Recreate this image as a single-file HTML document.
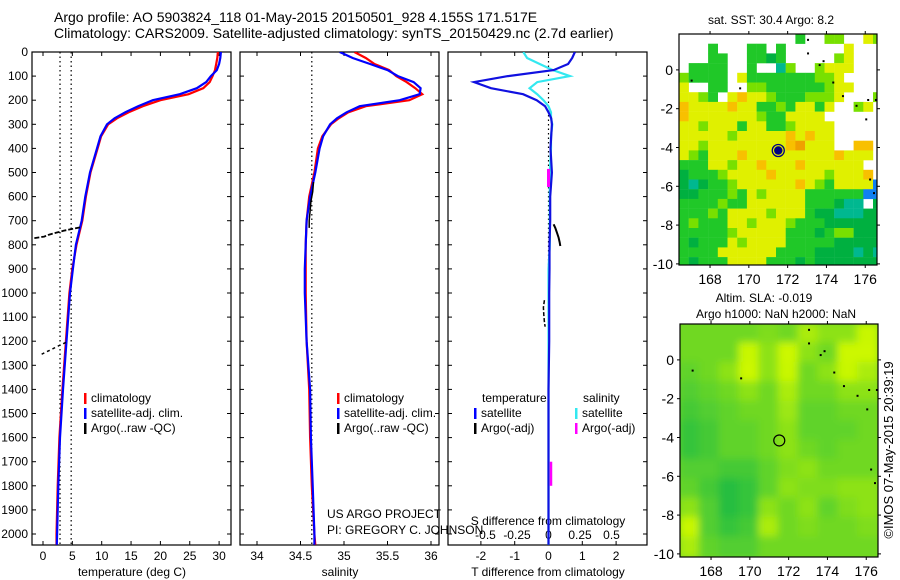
<!DOCTYPE html>
<html><head><meta charset="utf-8"><style>
html,body{margin:0;padding:0;background:#fff}
svg{display:block;font-family:"Liberation Sans",sans-serif}
</style></head><body>
<svg id="fig" width="900" height="580" viewBox="0 0 900 580" xmlns="http://www.w3.org/2000/svg">
<defs>
<clipPath id="c1"><rect x="32" y="52" width="199" height="493"/></clipPath>
<clipPath id="c2"><rect x="240" y="52" width="199" height="493"/></clipPath>
<clipPath id="c3"><rect x="448" y="52" width="200" height="493"/></clipPath>
<clipPath id="cm1"><rect x="679" y="34" width="198" height="231"/></clipPath>
<clipPath id="cm2"><rect x="680" y="324" width="198" height="233"/></clipPath>
<filter id="blur" x="-10%" y="-10%" width="120%" height="120%"><feGaussianBlur stdDeviation="4"/></filter>
</defs>
<text x="54" y="22" font-size="14">Argo profile: AO 5903824_118 01-May-2015 20150501_928 4.155S 171.517E</text>
<text x="54" y="38" font-size="14">Climatology: CARS2009. Satellite-adjusted climatology: synTS_20150429.nc (2.7d earlier)</text>
<g id="plots"></g>
</svg>
<script>
// ---- profile data ----
const depths=[0,25,50,75,100,125,150,175,200,225,250,275,300,350,400,500,600,700,800,900,1000,1200,1400,1600,1800,2000,2045];
const tSat=[30.3,30.2,30.0,29.6,28.6,27.8,26.2,23.3,18.7,16.2,14.0,12.2,10.9,9.8,9.2,8.0,7.2,6.6,5.6,5.1,4.6,4.0,3.4,2.9,2.6,2.4,2.35];
const tClim=[29.8,29.7,29.5,29.3,28.9,28.4,27.3,24.8,20.0,17.0,14.6,12.6,11.1,9.9,9.3,8.1,7.3,6.7,5.7,5.0,4.5,3.9,3.3,2.8,2.5,2.3,2.3];
const sSat=[34.95,35.1,35.3,35.5,35.62,35.8,35.88,35.87,35.64,35.18,35.03,34.92,34.84,34.76,34.72,34.67,34.61,34.57,34.56,34.55,34.55,34.57,34.61,34.62,34.64,34.66,34.66];
const sClim=[35.12,35.25,35.35,35.52,35.6,35.72,35.82,35.9,35.75,35.25,35.05,34.94,34.85,34.75,34.70,34.66,34.60,34.57,34.56,34.56,34.56,34.57,34.60,34.61,34.63,34.66,34.67];
const tDiff=[0.78,0.7,0.58,0.15,-1.2,-2.2,-1.7,-0.75,-0.35,-0.1,0.0,0.08,0.1,0.08,0.06,0.1,0.05,0.05,0.03,0.03,0.02,0.02,0.0,0.0,0.0,0.0,0.0];
const sDiff=[-0.2,-0.17,-0.07,0.035,0.17,-0.09,-0.15,-0.09,-0.04,0.0,0.02,0.02,0.03,0.02,0.02,0.01,0.01,0.01,0.01,0.0,0.0,0.0,0.0,0.0,0.0,0.0,0.0];
const argoTDepth1=[728,735,742,750,758,766,772];
const argoT1=[6.3,4.8,3.5,2.2,1.0,0.2,-1.5];
const argoTDepth2=[1205,1215,1225,1235,1245,1255];
const argoT2=[3.9,3.0,2.2,1.4,0.5,-0.3];
const argoSDepth=[540,580,620,660,700,730];
const argoS=[34.65,34.64,34.62,34.61,34.60,34.60];
const argoTdDepth1=[715,730,750,770,790,805];
const argoTd1=[0.15,0.2,0.25,0.3,0.33,0.35];
const argoTdDepth2=[1030,1060,1090,1120,1140];
const argoTd2=[-0.12,-0.15,-0.14,-0.12,-0.1];
const argoSdDepth1=[485,520,560];
const argoSd1=[0.0,0.0,0.0];
const argoSdDepth2=[1700,1750,1800];
const argoSd2=[0.02,0.02,0.02];
const depthTicks=[0,100,200,300,400,500,600,700,800,900,1000,1100,1200,1300,1400,1500,1600,1700,1800,1900,2000];
const tTicks=[0,5,10,15,20,25,30];
const sTicks=[34,34.5,35,35.5,36];
const tdTicks=[-2,-1,0,1,2];
const sdTicks=[-0.5,-0.25,0,0.25,0.5];
// ---- map data ----
const sstRows=[
"            g  ll  yl",
"   g   gg g      y   ",
"   gg  ggGg     ly   ",
" gggg  g  tl  lyyy   ",
"lgggg yggggggglly    ",
"y  gg  llgggggglyy   ",
"yylg yoyylgggllly   l",
"oyyyyoyygglgyygy  ly ",
"oyyyyyyylggyyyy      ",
"yylyyygyygglyyyy     ",
"yyyyylyyyyyoyoyy     ",
"yylyyyyyyyyoOyyy  oo ",
"ylgyyyoyyyyyyyyyoyyy ",
"gggyylyyoyyyoyyyyyy  ",
"Gggglyyyyoyyyyylyyyo ",
"GtGgglyyyyyyoylgyyyyb",
"GGggglgylyyyyggggggbb",
"gggglggyyyyyygggGtt G",
"ggglgyyyylyyygGGtttGG",
"glgggyylyyylgggGGGGGG",
"ggggglyyyyygggGgllGGG",
"gGgggylyyyygggggGGGGG",
"ggggyyyyyyggggGGGGtGt",
"gGgggyyyygggGgGGGGGGG"];
const slaRows=[
[0.5,0.5,0.5,0.5,0.55,0.5,0.7,0.6,0.6,0.8],
[0.5,0.5,0.5,0.8,0.6,0.85,0.6,0.5,0.85,0.9],
[0.45,0.5,0.6,0.9,0.6,0.8,0.5,0.6,0.8,0.7],
[0.4,0.45,0.5,0.6,0.5,0.7,0.5,0.5,0.6,0.6],
[0.35,0.4,0.45,0.5,0.5,0.65,0.45,0.45,0.5,0.5],
[0.3,0.35,0.45,0.45,0.5,0.6,0.45,0.45,0.45,0.5],
[0.3,0.35,0.45,0.45,0.5,0.6,0.5,0.45,0.5,0.5],
[0.4,0.4,0.35,0.35,0.45,0.55,0.6,0.5,0.5,0.5],
[0.45,0.35,0.25,0.3,0.45,0.6,0.55,0.55,0.6,0.6],
[0.6,0.4,0.25,0.3,0.6,0.5,0.6,0.45,0.55,0.6],
[0.8,0.4,0.3,0.35,0.7,0.5,0.55,0.5,0.5,0.55],
[0.7,0.45,0.4,0.4,0.5,0.5,0.5,0.5,0.5,0.5]];
const lonTicks=[168,170,172,174,176];
const latTicks=[0,-2,-4,-6,-8,-10];
const argoLon=171.517, argoLat=-4.155;

const NS="http://www.w3.org/2000/svg";
const root=document.getElementById('plots');
function mk(tag,attrs,parent){const e=document.createElementNS(NS,tag);for(const k in attrs)e.setAttribute(k,attrs[k]);(parent||root).appendChild(e);return e;}
function txt(x,y,s,size,anchor,parent){const t=mk('text',{x:x,y:y,'font-size':size,'text-anchor':anchor||'start'},parent);t.textContent=s;return t;}
const yD=d=>52+d*0.241;
const xT=t=>43+t*5.87;
const xS=s=>257+(s-34)*87;
const xTd=v=>548.5+v*33.8;
const xSd=v=>548.5+v*126;
function line(xs,ds,fx,color,w,clip,name,dash){
  const pts=xs.map((v,i)=>fx(v).toFixed(1)+','+yD(ds[i]).toFixed(1)).join(' ');
  const a={points:pts,fill:'none',stroke:color,'stroke-width':w,'clip-path':'url(#'+clip+')'};
  if(dash)a['stroke-dasharray']=dash;
  const p=mk('polyline',a);
  
  
  return p;
}
function panel(x0,name,xticksVals,xf,xlabel,labelFmt){
  const g=mk('g',{});
  
  
  mk('rect',{x:x0,y:52,width:199,height:493,fill:'none',stroke:'#000','stroke-width':1.2},g);
  depthTicks.forEach(d=>{const y=yD(d);mk('line',{x1:x0,x2:x0+4,y1:y,y2:y,stroke:'#000'},g);mk('line',{x1:x0+195,x2:x0+199,y1:y,y2:y,stroke:'#000'},g);});
  xticksVals.forEach(v=>{const x=xf(v);mk('line',{x1:x,x2:x,y1:545,y2:541,stroke:'#000'},g);mk('line',{x1:x,x2:x,y1:52,y2:56,stroke:'#000'},g);
    const t=txt(x,560,labelFmt(v),12,'middle',g);});
  if(xlabel){const t=txt(x0+100,576,xlabel,12,'middle',g);}
  return g;
}
depthTicks.forEach(d=>{const t=txt(28,yD(d)+4,String(d),12,'end');});
panel(32,'temperature-panel',tTicks,xT,'temperature (deg C)',String);
panel(240,'salinity-panel',sTicks,xS,'salinity',String);
panel(448,'difference-panel',tdTicks,xTd,'T difference from climatology',String);
sdTicks.forEach(v=>{const t=txt(xSd(v),539,String(v),12,'middle');});
{const t=txt(548,525,'S difference from climatology',12,'middle');}
[[xT(2.9),'c1'],[xT(4.8),'c1'],[xS(34.63),'c2'],[xTd(0),'c3']].forEach(([x,c])=>{const l=mk('line',{x1:x,x2:x,y1:52,y2:545,stroke:'#000','stroke-width':1.2,'stroke-dasharray':'1.5,3','clip-path':'url(#'+c+')'});});
line(tClim,depths,xT,'#f00',2.2,'c1','temp-climatology-line');
line(tSat,depths,xT,'#00f',2.2,'c1','temp-satellite-line');
line(argoT1,argoTDepth1,xT,'#000',1.8,'c1','temp-argo-line','5,2');
line(argoT2,argoTDepth2,xT,'#000',1.5,'c1','temp-argo-line-deep','3,3');
line(sClim,depths,xS,'#f00',2.2,'c2','sal-climatology-line');
line(sSat,depths,xS,'#00f',2.2,'c2','sal-satellite-line');
line(argoS,argoSDepth,xS,'#000',1.5,'c2','sal-argo-line');
line(sDiff,depths,xSd,'#33e8f0',2.2,'c3','s-diff-satellite-line');
line(tDiff,depths,xTd,'#1010e0',2.2,'c3','t-diff-satellite-line');
line(argoTd1,argoTdDepth1,xTd,'#000',2,'c3','t-diff-argo-line');
line(argoTd2,argoTdDepth2,xTd,'#000',1.5,'c3','t-diff-argo-line-deep','4,2');
line(argoSd1,argoSdDepth1,xSd,'#f0f',3,'c3','s-diff-argo-line');
line(argoSd2,argoSdDepth2,xSd,'#f0f',2.5,'c3','s-diff-argo-line-deep');
function legend(x,y,color,label,name){const g=mk('g',{});
  mk('rect',{x:x,y:y-9,width:2.5,height:11,fill:color},g);txt(x+7,y,label,12,'start',g);}
legend(84,402,'#f00','climatology','legend-climatology');
legend(84,417,'#00f','satellite-adj. clim.','legend-satellite');
legend(84,432,'#000','Argo(..raw -QC)','legend-argo');
legend(337,402,'#f00','climatology','legend-climatology-sal');
legend(337,417,'#00f','satellite-adj. clim.','legend-satellite-sal');
legend(337,432,'#000','Argo(..raw -QC)','legend-argo-sal');
{const t=txt(482,402,'temperature',12);}
{const t=txt(583,402,'salinity',12);}
legend(474,417,'#00f','satellite','legend-t-satellite');
legend(474,432,'#000','Argo(-adj)','legend-t-argo');
legend(575,417,'#33e8f0','satellite','legend-s-satellite');
legend(575,432,'#f0f','Argo(-adj)','legend-s-argo');
{const t=txt(327,518,'US ARGO PROJECT',12);}
{const t=txt(327,534,'PI: GREGORY C. JOHNSON',12);}

// ---- maps ----
const lon0=166.4, latTop=1.85, ppd=19.4;
const sstCol={g:'#20c828',G:'#00b040',l:'#78e000',y:'#e0f000',Y:'#f0f000',o:'#f8c000',O:'#f0a000',t:'#00b890',b:'#1080f0'};
const m1={lx:lon=>679+(lon-lon0)*ppd, ly:lat=>34+(latTop-lat)*ppd};
const g1=mk('g',{});


sstRows.forEach((row,i)=>{for(let j=0;j<row.length;j++){const c=row[j];if(c===' ')continue;
  const r=mk('rect',{x:m1.lx(lon0+j*0.5).toFixed(1),y:m1.ly(latTop-i*0.5).toFixed(1),width:9.9,height:9.9,fill:sstCol[c],'clip-path':'url(#cm1)'},g1);
  }});
mk('circle',{cx:m1.lx(argoLon),cy:m1.ly(argoLat),r:6,fill:'none',stroke:'#000080','stroke-width':1.3},g1);
{const c=mk('circle',{cx:m1.lx(argoLon),cy:m1.ly(argoLat),r:4.2,fill:'#000080'},g1);}
function slaColor(v){v=Math.max(0,Math.min(1,(v-0.5)*1.6+0.5));const a=[20,184,72],b=[204,248,0];const c=a.map((x,i)=>Math.round(x+(b[i]-x)*v));return 'rgb('+c.join(',')+')';}
const m2={lx:lon=>680+(lon-lon0)*ppd, ly:lat=>324+(latTop-lat)*ppd};
const g2=mk('g',{'clip-path':'url(#cm2)'});


mk('rect',{x:680,y:324,width:198,height:233,fill:slaColor(0.5)},g2);
const gb=mk('g',{filter:'url(#blur)'},g2);
slaRows.forEach((row,i)=>row.forEach((v,j)=>{
  const r=mk('rect',{x:(m2.lx(lon0+j*1.02)-1).toFixed(1),y:(m2.ly(latTop-i*1.0)-1).toFixed(1),width:22,height:22,fill:slaColor(v)},gb);
  }));
{const c=mk('circle',{cx:m2.lx(argoLon),cy:m2.ly(argoLat),r:5.5,fill:'none',stroke:'#000','stroke-width':1.2});}
[[173,1.6],[173,0.9],[173.6,0.3],[173.8,0.5],[174.3,-0.6],[174.8,-1.3],[175.5,-1.8],[176.1,-1.5],[176.5,-1.5],[176,-2.5],[169.5,-0.9],[167,-0.5],[176.2,-5.6],[176.4,-6.3]].forEach(([lo,la])=>{
  mk('rect',{x:m1.lx(lo),y:m1.ly(la),width:2,height:2,fill:'#000'});
  mk('rect',{x:m2.lx(lo),y:m2.ly(la),width:2,height:2,fill:'#000'});});
[[679,34,231,m1.lx,m1.ly,'sst-map-frame'],[680,324,233,m2.lx,m2.ly,'sla-map-frame']].forEach(([x0,y0,h,lx,ly,nm])=>{
  const g=mk('g',{});
  mk('rect',{x:x0,y:y0,width:198,height:h,fill:'none',stroke:'#000','stroke-width':1.2},g);
  lonTicks.forEach(lo=>{const x=lx(lo);mk('line',{x1:x,x2:x,y1:y0,y2:y0-3,stroke:'#000'},g);mk('line',{x1:x,x2:x,y1:y0+h,y2:y0+h+3,stroke:'#000'},g);
    const t=txt(x,y0+h+19,String(lo),14,'middle',g);});
  latTicks.forEach(la=>{const y=ly(la);mk('line',{x1:x0,x2:x0-3,y1:y,y2:y,stroke:'#000'},g);mk('line',{x1:x0+198,x2:x0+201,y1:y,y2:y,stroke:'#000'},g);
    const t=txt(x0-6,y+5,String(la),14,'end',g);});
});
{const t=txt(771,24,'sat. SST: 30.4  Argo: 8.2',12,'middle');}
{const t=txt(764,302,'Altim. SLA: -0.019',12,'middle');}
{const t=txt(776,318,'Argo h1000: NaN h2000: NaN',12,'middle');}
{const t=txt(0,0,'\u00a9IMOS 07-May-2015 20:39:19',13,'middle');t.setAttribute('transform','translate(893,450) rotate(-90)');}
</script>
</body></html>
